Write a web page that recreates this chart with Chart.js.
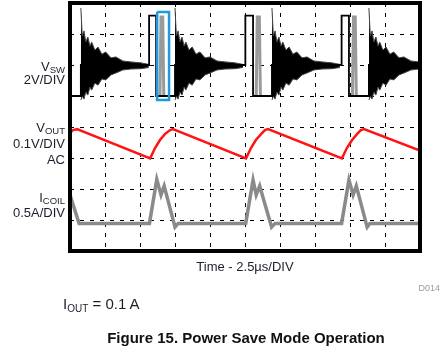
<!DOCTYPE html>
<html>
<head>
<meta charset="utf-8">
<script src="https://cdn.jsdelivr.net/npm/chart.js@4/dist/chart.umd.min.js"></script>
<style>
  html, body { margin: 0; padding: 0; background: #fff; }
  #wrap { position: relative; width: 448px; height: 355px; overflow: hidden;
          font-family: 'Liberation Sans', Arial, sans-serif; color: #1d1d2b; }
  #scope { position: absolute; left: 0; top: 0; }
  .t { position: absolute; white-space: nowrap; }
  .side { right: 383px; text-align: right; font-size: 13px; line-height: 13px; }
  .side sub { font-size: 9.5px; vertical-align: -2px; line-height: 0; }
  .iout sub { font-size: 10px; vertical-align: -3px; line-height: 0; }
</style>
</head>
<body>
<div id="wrap">
  <canvas id="scope" width="448" height="355"></canvas>

  <div class="t side" style="top:60px">V<sub>SW</sub></div>
  <div class="t side" style="top:73px">2V/DIV</div>
  <div class="t side" style="top:121px">V<sub>OUT</sub></div>
  <div class="t side" style="top:137px">0.1V/DIV</div>
  <div class="t side" style="top:153px">AC</div>
  <div class="t side" style="top:191px">I<sub>COIL</sub></div>
  <div class="t side" style="top:206px">0.5A/DIV</div>

  <div class="t" style="left:145px; width:200px; top:260px; text-align:center; font-size:13px; line-height:13px;">Time - 2.5µs/DIV</div>
  <div class="t" style="right:8px; top:284px; font-size:9px; line-height:9px; color:#9a9a9a;">D014</div>
  <div class="t iout" style="left:63px; top:296px; font-size:15px; line-height:15px;">I<sub>OUT</sub> = 0.1 A</div>
  <div class="t" style="left:96px; width:300px; top:330px; text-align:center; font-size:15px; line-height:15px; font-weight:bold; color:#111;">Figure 15. Power Save Mode Operation</div>
</div>

<script>
// scope screen: x and y in divisions (10 x 8), y = 0 at the bottom
const X_DIVS = 10;
const Y_DIVS = 8;

// V_SW trace (black): low 5.0, idle 6.0, high 7.6
const vswX = [0, 0.31, 0.31, 2.26, 2.26, 2.46, 2.46, 3.0, 3.0,
              5.01, 5.01, 5.23, 5.23, 5.77, 5.77,
              7.76, 7.76, 7.97, 7.97, 8.54, 8.54, 10];
const vswY = [5.0, 5.0, 6.0, 6.0, 7.59, 7.59, 5.0, 5.0, 6.0,
              6.0, 7.59, 7.59, 5.0, 5.0, 6.0,
              6.0, 7.59, 7.59, 5.0, 5.0, 6.0, 6.0];

// narrow grey second pulse of each burst
const pulseX = [2.57, 2.60, 2.65, 2.68, null, 5.32, 5.35, 5.41, 5.44, null, 8.07, 8.10, 8.15, 8.18];
const pulseY = [5.0, 7.55, 7.55, 5.0, null, 5.0, 7.55, 7.55, 5.0, null, 5.0, 7.55, 7.55, 5.0];

// ringing envelopes after each burst (upper / lower edge)
const ring1X = [0.31, 0.35, 0.40, 0.45, 0.51, 0.57, 0.62, 0.71, 0.80, 0.91, 1.02, 1.17, 1.31, 1.51, 1.74, 2.02, 2.25];
const ring2X = [3.00, 3.04, 3.09, 3.14, 3.20, 3.26, 3.31, 3.40, 3.49, 3.60, 3.71, 3.86, 4.00, 4.20, 4.43, 4.71, 4.94];
const ring3X = [5.77, 5.81, 5.86, 5.91, 5.97, 6.03, 6.08, 6.17, 6.26, 6.37, 6.48, 6.63, 6.77, 6.97, 7.20, 7.48, 7.71];
const ring4X = [8.54, 8.58, 8.63, 8.68, 8.74, 8.80, 8.85, 8.94, 9.03, 9.14, 9.25, 9.40, 9.54, 9.74, 9.97, 10.0];
const ringHi = [7.84, 6.94, 7.10, 6.74, 6.90, 6.61, 6.74, 6.48, 6.58, 6.35, 6.42, 6.23, 6.26, 6.13, 6.10, 6.07, 6.02];
const ringLo = [4.87, 4.99, 4.90, 5.13, 5.03, 5.29, 5.19, 5.42, 5.35, 5.55, 5.52, 5.68, 5.74, 5.84, 5.87, 5.88, 5.92];

// V_OUT (red, AC coupled sawtooth)
const voutX = [0, 0.09, 0.20, 2.29, 2.43, 2.57, 2.71, 2.86, 2.94,
               5.03, 5.17, 5.31, 5.46, 5.57, 5.66,
               7.77, 7.91, 8.06, 8.20, 8.31, 8.40, 10];
const voutY = [3.82, 3.90, 3.93, 2.99, 3.32, 3.58, 3.77, 3.90, 3.93,
               2.99, 3.32, 3.58, 3.77, 3.90, 3.93,
               2.99, 3.32, 3.58, 3.77, 3.90, 3.93, 3.24];

// I_COIL (grey)
const icoilX = [0, 0.26, 2.27, 2.48, 2.60, 2.69, 3.00, 3.09,
                5.02, 5.23, 5.32, 5.42, 5.76, 5.86,
                7.76, 7.97, 8.09, 8.18, 8.49, 8.57, 10];
const icoilY = [1.81, 0.89, 0.89, 2.31, 1.81, 2.10, 0.77, 0.89,
                0.89, 2.29, 1.81, 2.10, 0.77, 0.89,
                0.89, 2.29, 1.81, 2.10, 0.77, 0.89, 0.89];

// blue highlight box around the first pulse pair
const boxX = [2.49, 2.83, 2.83, 2.49, 2.49];
const boxY = [7.71, 7.71, 4.87, 4.87, 7.71];

const pts = (xs, ys) => xs.map((x, i) => ({ x: x, y: ys[i] }));

const line = (data, color, width, extra) => Object.assign({
  data: data,
  borderColor: color,
  borderWidth: width,
  pointRadius: 0,
  tension: 0,
  fill: false,
  spanGaps: false
}, extra || {});

// one ringing burst = upper edge + lower edge filled black between them
const ring = xs => [
  line(pts(xs, ringHi), '#444', 1),
  line(pts(xs, ringLo), '#444', 1, { fill: '-1', backgroundColor: '#000' })
];

/* frame drawn over the traces */
const framePlugin = {
  id: 'frame',
  afterDatasetsDraw(chart) {
    const a = chart.chartArea;
    const ctx = chart.ctx;
    ctx.save();
    ctx.strokeStyle = '#000';
    ctx.lineWidth = 4;
    ctx.strokeRect(a.left, a.top, a.right - a.left, a.bottom - a.top);
    ctx.restore();
  }
};

new Chart(document.getElementById('scope'), {
  type: 'line',
  data: {
    datasets: [
      line(pts(boxX, boxY), '#1c9bd8', 2.5),
      line(pts(icoilX, icoilY), '#8a8a8a', 3.5),
      line(pts(voutX, voutY), '#ff1414', 2.5),
      line(pts(vswX, vswY), '#000', 1.8),
      line(pts(pulseX, pulseY), '#9a9a9a', 3),
      ...ring(ring1X),
      ...ring(ring2X),
      ...ring(ring3X),
      ...ring(ring4X)
    ]
  },
  options: {
    responsive: false,
    animation: false,
    devicePixelRatio: 1,
    layout: { padding: { left: 70, right: 28, top: 3, bottom: 104 } },
    plugins: { legend: { display: false }, tooltip: { enabled: false } },
    scales: {
      x: {
        type: 'linear', min: 0, max: X_DIVS,
        ticks: { display: false, stepSize: 1 },
        border: { display: false, dash: [4, 6] },
        grid: { color: '#000', lineWidth: 1, drawTicks: false }
      },
      y: {
        type: 'linear', min: 0, max: Y_DIVS,
        ticks: { display: false, stepSize: 1 },
        border: { display: false, dash: [4, 6] },
        grid: { color: '#000', lineWidth: 1, drawTicks: false }
      }
    }
  },
  plugins: [framePlugin]
});
</script>
</body>
</html>
